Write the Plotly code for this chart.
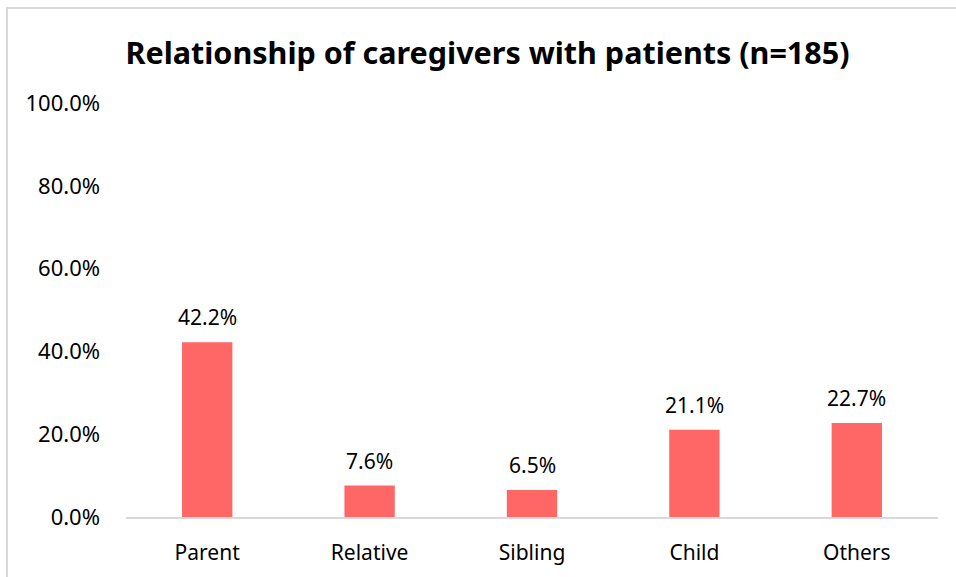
import plotly.graph_objects as go

categories = ["Parent", "Relative", "Sibling", "Child", "Others"]
percentages = [42.2, 7.6, 6.5, 21.1, 22.7]
y_ticks = [0, 20, 40, 60, 80, 100]
y_tick_labels = [f"{v:.1f}%" for v in y_ticks]

BAR_COLOR = "#FF6666"
TEXT = "#000000"
BORDER = "#D9D9D9"
FONT = "Noto Sans, Open Sans, sans-serif"

fig = go.Figure()
fig.add_trace(go.Bar(
    x=categories,
    y=percentages,
    marker_color=BAR_COLOR,
    marker_line_width=0,
    width=0.31,
))

# value labels above bars
for cat, val in zip(categories, percentages):
    fig.add_annotation(
        x=cat, y=val, text=f"{val:.1f}%",
        showarrow=False, yanchor="bottom", yshift=9,
        font=dict(size=21, color=TEXT),
    )

fig.update_layout(
    width=956,
    height=577,
    margin=dict(l=126, r=18, t=103, b=60),
    plot_bgcolor="white",
    paper_bgcolor="white",
    font=dict(family=FONT, color=TEXT, size=21),
    title=dict(
        text="<b>Relationship of caregivers with patients (n=185)</b>",
        x=487.5 / 956, xanchor="center", y=1 - 53 / 577, yanchor="middle",
        font=dict(size=30.5, color=TEXT),
    ),
    showlegend=False,
)
fig.update_yaxes(
    range=[0, 100],
    tickvals=y_ticks,
    ticktext=y_tick_labels,
    showgrid=False,
    zeroline=False,
    showline=False,
    ticks="",
    ticklabelstandoff=25,
    tickfont=dict(size=22),
)
fig.update_xaxes(
    showline=True,
    linecolor=BORDER,
    linewidth=2,
    ticks="",
    ticklabelstandoff=16,
    tickfont=dict(size=21),
)
# outer chart border (runs off the right/bottom edge like the reference)
fig.add_shape(
    type="rect", xref="paper", yref="paper",
    x0=(7 - 126) / 812, x1=1.2, y0=-0.5, y1=1 + 95 / 414,
    line=dict(color=BORDER, width=2), fillcolor="rgba(0,0,0,0)",
    layer="below",
)

fig.write_html(
    "out.html",
    config={"displayModeBar": False},
    post_script="document.body.style.margin='0';document.body.style.overflow='hidden';",
)
